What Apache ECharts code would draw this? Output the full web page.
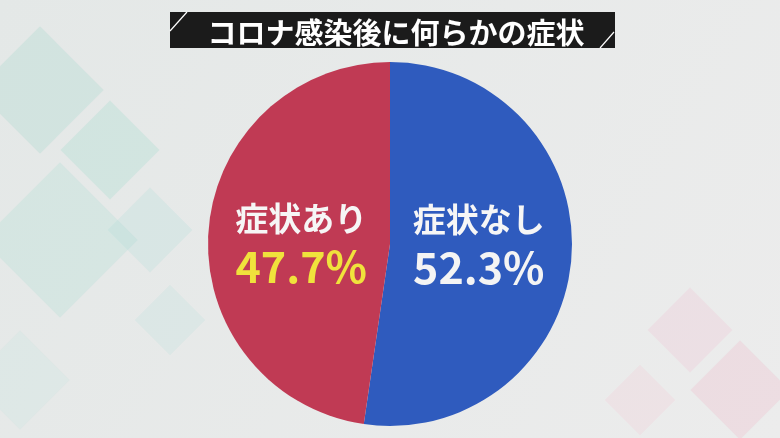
<!DOCTYPE html>
<html><head><meta charset="utf-8">
<script src="https://cdn.jsdelivr.net/npm/echarts@6/dist/echarts.min.js"></script>
<style>html,body{margin:0;padding:0;background:#e9e9e9}#c{width:780px;height:438px}</style>
</head><body><div id="c"></div>
<script>
const titleText = 'コロナ感染後に何らかの症状';
const categories = ['症状なし', '症状あり'];
const values = [52.3, 47.7];
const sliceColors = ['#2f5bbe', '#c03a54'];
const pctColors = ['#f4f4f4', '#f0e23c'];
const labelPads = [[0, 10, 12, 0], [12, 0, 0, 10]];

const chart = echarts.init(document.getElementById('c'));
const font = '"Noto Sans CJK JP", "Noto Sans", sans-serif';
function deco(x, y, w, h, rot, color, op) {
  return { type: 'rect', x: x, y: y, rotation: rot, shape: { x: -w/2, y: -h/2, width: w, height: h },
    style: { fill: color, opacity: op }, silent: true, z: -10 };
}
chart.setOption({
  backgroundColor: {
    type: 'linear', x: 0, y: 0, x2: 1, y2: 1,
    colorStops: [{ offset: 0, color: '#e4e8e7' }, { offset: 1, color: '#ececec' }]
  },
  graphic: [
    deco(40, 90, 90, 90, Math.PI/4, '#7fcfbf', 0.18),
    deco(110, 150, 70, 70, Math.PI/4, '#8fd6c6', 0.22),
    deco(60, 240, 110, 110, Math.PI/4, '#8fd6c6', 0.18),
    deco(150, 230, 60, 60, Math.PI/4, '#a8dcd4', 0.22),
    deco(170, 320, 50, 50, Math.PI/4, '#b6e0da', 0.22),
    deco(20, 380, 70, 70, Math.PI/4, '#c6e4e0', 0.22),
    deco(690, 330, 60, 60, Math.PI/4, '#f2b8cc', 0.22),
    deco(740, 390, 70, 70, Math.PI/4, '#f0a8c0', 0.22),
    deco(640, 400, 50, 50, Math.PI/4, '#f4c4d0', 0.22),
    { type: 'rect', shape: { x: 170, y: 12, width: 445, height: 36 }, style: { fill: '#1b1b1b' }, z: 5 },
    { type: 'line', shape: { x1: 170, y1: 31, x2: 187, y2: 12 }, style: { stroke: '#ffffff', lineWidth: 1.2 }, z: 6 },
    { type: 'line', shape: { x1: 600, y1: 48, x2: 614, y2: 32 }, style: { stroke: '#ffffff', lineWidth: 1.2 }, z: 6 }
  ],
  title: {
    text: titleText, left: 391, top: 13, textAlign: 'center',
    textStyle: { color: '#ffffff', fontSize: 29, fontWeight: 'bold', fontFamily: font, letterSpacing: 1 },
    z: 10
  },
  series: [{
    type: 'pie',
    center: [390, 244],
    radius: [0, 182],
    startAngle: 90,
    clockwise: true,
    silent: true,
    animation: false,
    data: categories.map((c, i) => ({
      name: c, value: values[i],
      itemStyle: { color: sliceColors[i] },
      label: {
        padding: labelPads[i],
        rich: {
          n: { color: '#f6f6f6', fontSize: 33, fontWeight: 'bold', fontFamily: font, lineHeight: 46 },
          p: { color: pctColors[i], fontSize: 43, fontWeight: 'bold', fontFamily: font, lineHeight: 50 }
        }
      }
    })),
    label: {
      show: true, position: 'inside',
      formatter: p => '{n|' + p.name + '}\n{p|' + p.value.toFixed(1) + '%}'
    },
    labelLine: { show: false }
  }]
});
</script></body></html>
